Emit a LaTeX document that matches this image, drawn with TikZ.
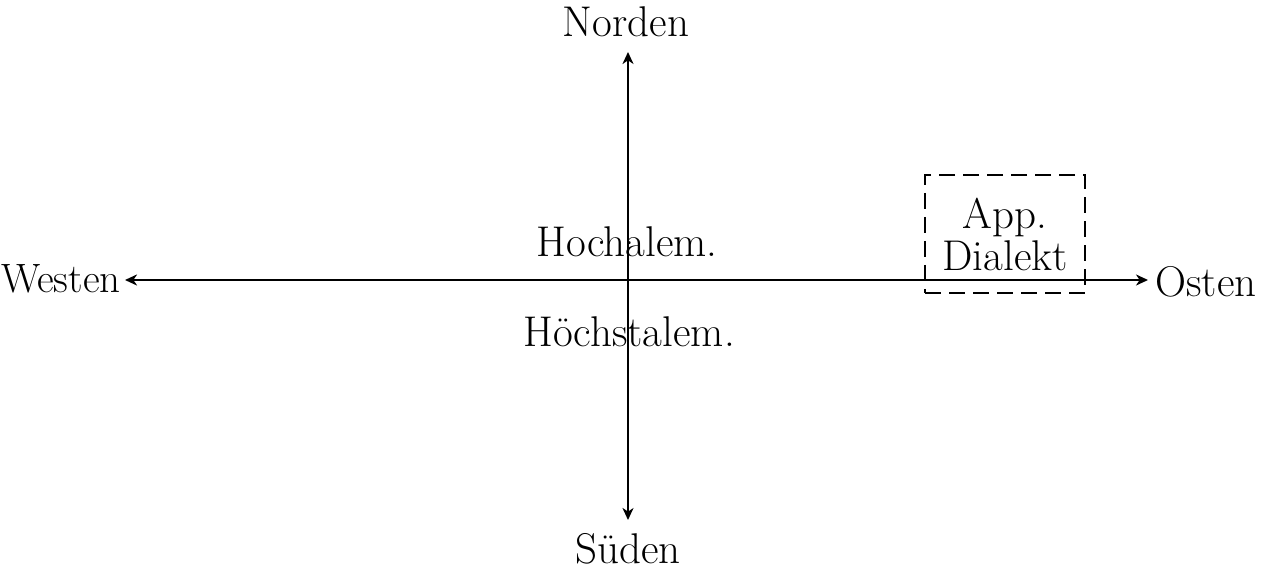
\documentclass[tikz,border=0pt]{standalone}
\usetikzlibrary{arrows.meta}
\begin{document}
\begin{tikzpicture}[x=0.5pt,y=-0.5pt,
  lbl/.style={font=\fontsize{21.5}{22}\selectfont, inner sep=0pt},
  axis/.style={line width=1pt, {Stealth[length=6pt,width=5.5pt,inset=1.8pt]}-{Stealth[length=6pt,width=5.5pt,inset=1.8pt]}},
  dbox/.style={draw, line width=0.75pt, dash pattern=on 8pt off 4pt, minimum width=80pt, minimum height=59pt, align=center, inner sep=0pt, font=\fontsize{21.5}{21}\selectfont}]
\useasboundingbox (0,0) rectangle (1264,571);
\node[lbl, anchor=base] (north) at (626,37) {Norden};
\node[lbl, anchor=base] (south) at (628,563) {Süden};
\node[lbl, anchor=base east, font=\fontsize{20.5}{22}\selectfont] (west) at (121,293) {Westen};
\node[lbl, anchor=base west] (east) at (1155,297) {Osten};
\coordinate (ntip) at (628,52);
\coordinate (stip) at (628,520);
\coordinate (wtip) at (125,280);
\coordinate (etip) at (1148,280);
\draw[axis] (ntip) -- (stip);
\draw[axis] (wtip) -- (etip);
\node[lbl, anchor=base] (hoch) at (627,257) {Hochalem.};
\node[lbl, anchor=base] (hoechst) at (629,347) {Höchstalem.};
\node[dbox] (app) at (1005,234) {App.\\Dialekt};
\end{tikzpicture}
\end{document}
